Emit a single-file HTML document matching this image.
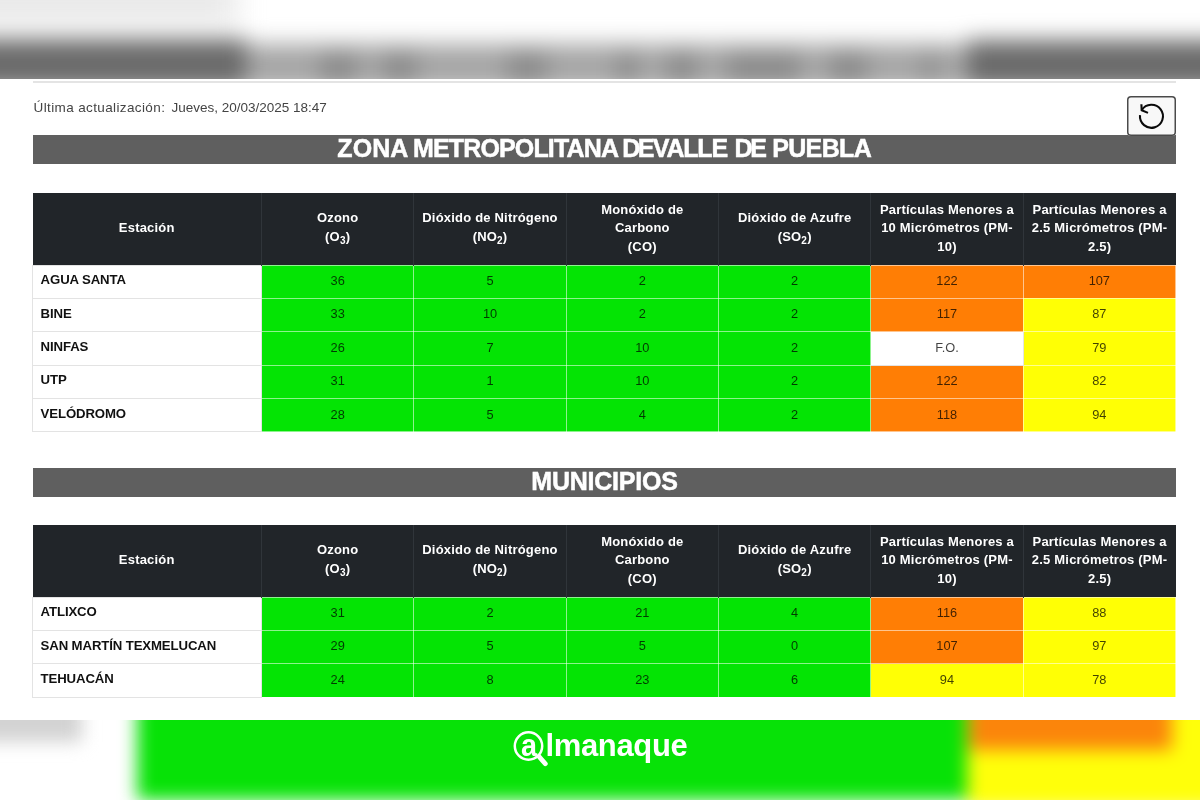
<!DOCTYPE html>
<html lang="es">
<head>
<meta charset="utf-8">
<title>Calidad del aire</title>
<style>
*{box-sizing:border-box;margin:0;padding:0}
html,body{width:1200px;height:800px;overflow:hidden;background:#fff}
body{position:relative;font-family:"Liberation Sans",sans-serif;color:#111}
.bg{position:absolute;left:0;top:0;width:1200px;height:800px;overflow:hidden;background:#fff}
.bg .in{position:absolute;left:-40px;top:-40px;width:1280px;height:880px;filter:blur(11px)}
.bg .in.b2{filter:blur(8.5px)}
.bg .in div{position:absolute}
.panel{position:absolute;left:0;top:79px;width:1200px;height:641px;background:#fff}
.hr{position:absolute;left:33px;top:2px;width:1143px;height:2px;background:#e4e4e4}
.bar{-webkit-text-stroke:.5px #fff}
.bar span{position:absolute;top:.8px}
.upd{position:absolute;left:33.5px;top:20.5px;font-size:13.5px;color:#444;white-space:pre}
.upd b{font-weight:normal;letter-spacing:.38px}
.upd i{font-style:normal;position:absolute;left:138px;top:0}
.btn{z-index:2;position:absolute;left:1127px;top:17px;width:49px;height:40px;border-radius:4px;background:#f8f8f8;box-shadow:inset 0 0 0 1.5px #4a4a4a}
.btn svg{position:absolute;left:0;top:1px}
.bar{position:absolute;left:33px;width:1143px;height:29px;background:#5f5f5f;color:#fff;font-weight:bold;font-size:25px;text-align:center;line-height:25px;white-space:nowrap}
table{position:absolute;left:32px;width:1144px;border-collapse:collapse;table-layout:fixed}
th{background:#212529;color:#fff;font-size:13px;font-weight:bold;line-height:18.5px;height:72px;border-left:1px solid #30353a;vertical-align:middle;text-align:center;letter-spacing:.2px;padding:0 6px 1px}
th:first-child{border-left:none}
td{height:33.4px;font-size:12.8px;text-align:center;border:1px solid #e3e3e3;color:rgba(0,0,0,.74);vertical-align:middle;padding-bottom:2.2px}
td:first-child{text-align:left;font-weight:bold;font-size:13.2px;padding-left:7.6px;letter-spacing:-.12px;padding-bottom:4px;color:#111;background:#fff}
td.g,td.o,td.y{border-color:rgba(255,255,255,.55)}
td.g{background:#04e404}
td.o{background:#ff7e05}
td.y{background:#ffff05}
sub{font-size:10px;vertical-align:baseline;position:relative;top:3px}
.logo{position:absolute;left:545.5px;top:727.5px;color:#fff;font-weight:bold;font-size:31px;line-height:36px;white-space:nowrap;letter-spacing:-.35px}
.lga{transform:scaleX(.93);transform-origin:0 0;position:absolute;left:-25px;top:0;letter-spacing:0}
.mag{position:absolute;left:508.4px;top:724.4px}
</style>
</head>
<body>
<div class="bg"><div class="in">
  <div style="left:0;top:0;width:282px;height:66px;background:#f0f0f0"></div>
  <div style="left:0;top:34px;width:262px;height:18px;background:#e6e6e6"></div>
  <div style="left:0;top:84px;width:1280px;height:45px;background:#a6a6a6"></div>
  <div style="left:360px;top:92px;width:37px;height:37px;background:#8c8c8c"></div>
  <div style="left:423px;top:92px;width:34px;height:37px;background:#8c8c8c"></div>
  <div style="left:547px;top:92px;width:40px;height:37px;background:#8c8c8c"></div>
  <div style="left:657px;top:92px;width:20px;height:37px;background:#8c8c8c"></div>
  <div style="left:707px;top:92px;width:30px;height:37px;background:#8c8c8c"></div>
  <div style="left:767px;top:92px;width:73px;height:37px;background:#8c8c8c"></div>
  <div style="left:870px;top:92px;width:37px;height:37px;background:#8c8c8c"></div>
  <div style="left:963px;top:92px;width:14px;height:37px;background:#8c8c8c"></div>
  <div style="left:0;top:79px;width:286px;height:50px;background:#6b6b6b"></div>
  <div style="left:1008px;top:80px;width:272px;height:49px;background:#6b6b6b"></div>
</div><div class="in b2">
  <div style="left:177px;top:700px;width:830px;height:140px;background:#07e207"></div>
  <div style="left:1007px;top:700px;width:280px;height:148px;background:#ffff0a"></div>
  <div style="left:1009px;top:700px;width:203px;height:90px;background:#fb850b"></div>
  <div style="left:0;top:740px;width:122px;height:42px;background:#d3d3d3"></div>
</div></div>

<div class="panel">
  <div class="hr"></div>
  <div class="upd"><b>Última actualización:</b> <i>Jueves, 20/03/2025 18:47</i></div>
  <div class="btn"><svg width="49" height="40" viewBox="0 0 49 40" fill="none" stroke="#0a0a0a" stroke-width="2.1"><path d="M13 18.2 A11.5 11.5 0 1 0 14.7 13.2"/><path d="M14.4 7.3 L14.7 13.3 L21 15.9"/></svg></div>

  <div class="bar" style="top:56px;text-align:left"><span style="left:304.3px;letter-spacing:0.1px">ZONA</span> <span style="left:380.0px;letter-spacing:-0.85px">METROPOLITANA</span> <span style="left:589.2px;letter-spacing:-2.4px">DE</span> <span style="left:619.8px;letter-spacing:-1.2px">VALLE</span> <span style="left:701.6px;letter-spacing:-2.4px">DE</span> <span style="left:739.2px;letter-spacing:-0.65px">PUEBLA</span></div>
  <table style="top:114px">
    <colgroup><col style="width:229px"><col><col><col><col><col><col></colgroup>
    <tr><th>Estación</th><th>Ozono<br>(O<sub>3</sub>)</th><th>Dióxido de Nitrógeno<br>(NO<sub>2</sub>)</th><th>Monóxido de<br>Carbono<br>(CO)</th><th>Dióxido de Azufre<br>(SO<sub>2</sub>)</th><th>Partículas Menores a 10 Micrómetros (PM-10)</th><th>Partículas Menores a 2.5 Micrómetros (PM-2.5)</th></tr>
    <tr><td>AGUA SANTA</td><td class="g">36</td><td class="g">5</td><td class="g">2</td><td class="g">2</td><td class="o">122</td><td class="o">107</td></tr>
    <tr><td>BINE</td><td class="g">33</td><td class="g">10</td><td class="g">2</td><td class="g">2</td><td class="o">117</td><td class="y">87</td></tr>
    <tr><td>NINFAS</td><td class="g">26</td><td class="g">7</td><td class="g">10</td><td class="g">2</td><td>F.O.</td><td class="y">79</td></tr>
    <tr><td>UTP</td><td class="g">31</td><td class="g">1</td><td class="g">10</td><td class="g">2</td><td class="o">122</td><td class="y">82</td></tr>
    <tr><td>VELÓDROMO</td><td class="g">28</td><td class="g">5</td><td class="g">4</td><td class="g">2</td><td class="o">118</td><td class="y">94</td></tr>
  </table>

  <div class="bar" style="top:389px;letter-spacing:-0.23px;line-height:26.6px">MUNICIPIOS</div>
  <table style="top:446px">
    <colgroup><col style="width:229px"><col><col><col><col><col><col></colgroup>
    <tr><th>Estación</th><th>Ozono<br>(O<sub>3</sub>)</th><th>Dióxido de Nitrógeno<br>(NO<sub>2</sub>)</th><th>Monóxido de<br>Carbono<br>(CO)</th><th>Dióxido de Azufre<br>(SO<sub>2</sub>)</th><th>Partículas Menores a 10 Micrómetros (PM-10)</th><th>Partículas Menores a 2.5 Micrómetros (PM-2.5)</th></tr>
    <tr><td>ATLIXCO</td><td class="g">31</td><td class="g">2</td><td class="g">21</td><td class="g">4</td><td class="o">116</td><td class="y">88</td></tr>
    <tr><td>SAN MARTÍN TEXMELUCAN</td><td class="g">29</td><td class="g">5</td><td class="g">5</td><td class="g">0</td><td class="o">107</td><td class="y">97</td></tr>
    <tr><td>TEHUACÁN</td><td class="g">24</td><td class="g">8</td><td class="g">23</td><td class="g">6</td><td class="y">94</td><td class="y">78</td></tr>
  </table>
</div>

<svg class="mag" width="48" height="48" viewBox="0 0 48 48" fill="none" stroke="#fff" stroke-linecap="round"><circle cx="20.5" cy="22" r="13.7" stroke-width="2.5"/><path d="M31 32.5 L37.3 39.8" stroke-width="4.8"/></svg>
<div class="logo"><span class="lga">a</span>lmanaque</div>
</body>
</html>
